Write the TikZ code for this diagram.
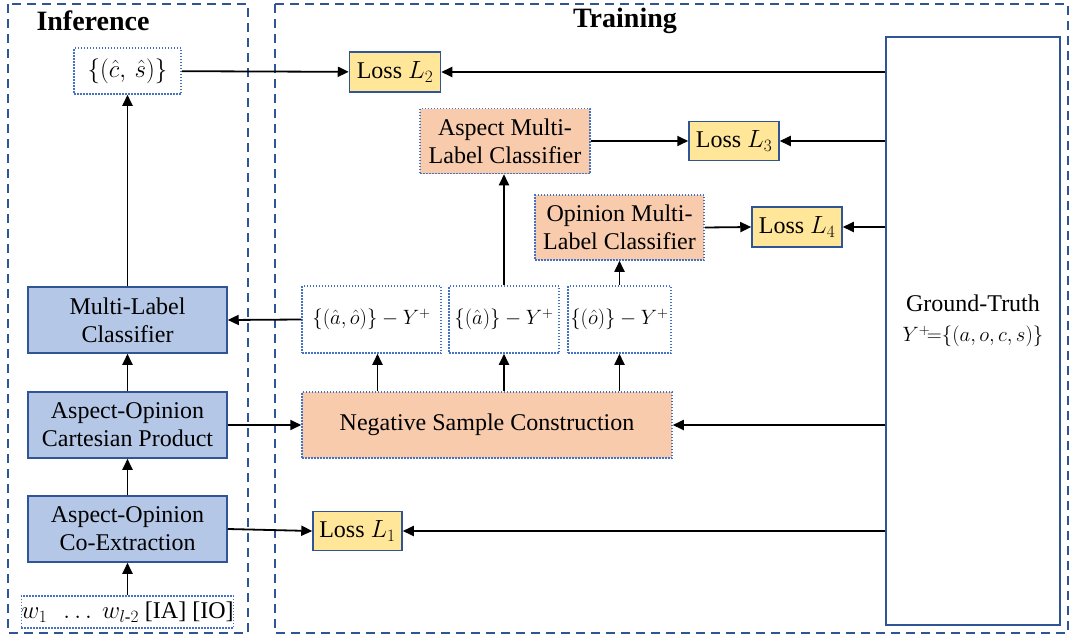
\documentclass[tikz,border=0pt]{standalone}
\usepackage{amsmath}
\usepackage{fontspec}
\setmainfont{Liberation Serif}
\usetikzlibrary{arrows.meta}
\definecolor{frame}{HTML}{2F5597}
\definecolor{dotblue}{HTML}{4472C4}
\definecolor{bluefill}{HTML}{B4C7E7}
\definecolor{orangefill}{HTML}{F8CBAD}
\definecolor{yellowfill}{HTML}{FFE699}
\tikzset{
  txt/.style={font=\fontsize{24}{28}\selectfont, align=center, inner sep=0pt},
  mathtxt/.style={font=\fontsize{22.5}{26}\selectfont},
  title/.style={font=\fontsize{28}{30}\selectfont\bfseries, inner sep=0pt},
  region/.style={draw=frame, line width=1.5pt, dash pattern=on 9pt off 6pt},
  blk/.style={txt, draw=frame, fill=bluefill, line width=1.5pt,
    minimum width=199pt, minimum height=66pt},
  orng/.style={txt, draw=dotblue, fill=orangefill, line width=1.5pt,
    dash pattern=on 1.5pt off 1.5pt},
  lossbox/.style={txt, draw=frame, fill=yellowfill, line width=1.5pt,
    minimum width=91pt, minimum height=40pt},
  setbox/.style={txt, draw=dotblue, line width=1.5pt,
    dash pattern=on 1.5pt off 1.5pt, minimum height=67pt},
  conn/.style={line width=1.8pt, -{Triangle[length=11pt,width=10pt]}},
}
\begin{document}
\begin{tikzpicture}[x=1pt, y=-1pt]
\useasboundingbox (0,0) rectangle (1073,637);

% outer regions
\draw[region] (8,4) rectangle (248,633);
\draw[region] (275,4) rectangle (1068,633);
\node[title] (tinf) at (93,21) {Inference};
\node[title] (ttrain) at (625,21) {Training};

% inference column
\node[setbox, minimum width=107pt, minimum height=46pt] (cs) at (127.5,71) {$\{(\hat{c},\,\hat{s})\}$};
\node[blk] (mlc) at (127.5,320) {Multi-Label\\Classifier};
\node[blk] (cart) at (127.5,425) {Aspect-Opinion\\Cartesian Product};
\node[blk] (coex) at (127.5,529) {Aspect-Opinion\\Co-Extraction};
\node[setbox, minimum width=199pt, minimum height=32pt] (inp) at (127.5,612)
  {$w_1\ \ \ldots\ w_{l\text{-}2}$ [IA] [IO]};

% training column
\node[lossbox] (l2) at (395,72) {Loss $L_2$};
\node[orng, minimum width=170pt, minimum height=65pt] (amlc) at (505,141) {Aspect Multi-\\Label Classifier};
\node[lossbox, minimum width=90pt, minimum height=39pt] (l3) at (734,141) {Loss $L_3$};
\node[orng, minimum width=169pt, minimum height=65pt] (omlc) at (619.5,227.5) {Opinion Multi-\\Label Classifier};
\node[lossbox, minimum width=90pt] (l4) at (797,227) {Loss $L_4$};
\node[setbox, mathtxt, minimum width=139pt] (s1) at (371.5,319.5) {$\{(\hat{a},\hat{o})\}-Y^{+}$};
\node[setbox, mathtxt, minimum width=110pt] (s2) at (504,319.5) {$\{(\hat{a})\}-Y^{+}$};
\node[setbox, mathtxt, minimum width=103pt] (s3) at (619.5,319.5) {$\{(\hat{o})\}-Y^{+}$};
\node[orng, minimum width=370pt, minimum height=66pt] (nsc) at (487,425) {Negative Sample Construction};
\node[lossbox, minimum width=89pt, minimum height=39pt] (l1) at (357.5,531) {Loss $L_1$};
\node[txt, draw=frame, line width=1.5pt, minimum width=174pt, minimum height=588pt] (gt) at (973,331) {};
\node[txt, font=\fontsize{24}{30}\selectfont] (gtlabel) at (973,321)
  {Ground-Truth\\{\fontsize{21}{26}\selectfont$Y^{+}\!{=}\{(a,o,c,s)\}$}};

% inference flow
\draw[conn] (inp) -- (coex);
\draw[conn] (coex) -- (cart);
\draw[conn] (cart) -- (mlc);
\draw[conn] (mlc) -- (cs);

% training flow
\draw[conn] (cs) -- (l2);
\draw[conn] (coex.east) -- (l1.west);
\draw[conn] (cart.east) -- (nsc.west);
\draw[conn] (s1.west) -- (mlc.east);
\draw[conn] ([xshift=6pt]s1.south |- nsc.north) -- ([xshift=6pt]s1.south);
\draw[conn] (s2.south |- nsc.north) -- (s2.south);
\draw[conn] (s3.south |- nsc.north) -- (s3.south);
\draw[conn] (s2.north) -- (s2.north |- amlc.south);
\draw[conn] (s3.north) -- (s3.north |- omlc.south);
\draw[conn] (amlc) -- (l3);
\draw[conn] (omlc.east) -- (l4.west);

% ground truth supervision
\draw[conn] (gt.west |- l2.east) -- (l2.east);
\draw[conn] (gt.west |- l3.east) -- (l3.east);
\draw[conn] (gt.west |- l4.east) -- (l4.east);
\draw[conn] (gt.west |- nsc.east) -- (nsc.east);
\draw[conn] (gt.west |- l1.east) -- (l1.east);
\end{tikzpicture}
\end{document}
